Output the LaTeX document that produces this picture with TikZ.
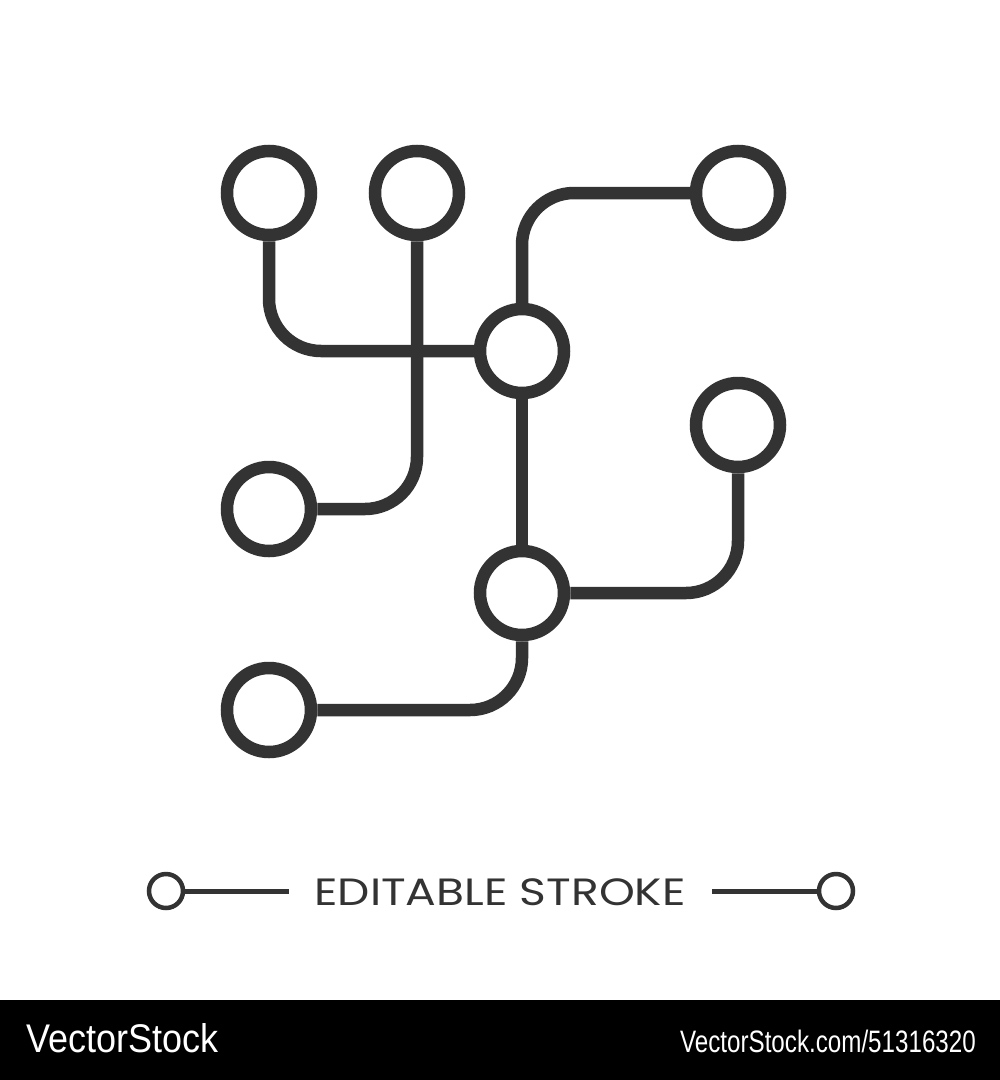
\documentclass[tikz,border=0pt]{standalone}
\usepackage{fontspec}
\setmainfont{Liberation Sans}
\newfontfamily\legendfont{Poppins}
\definecolor{ink}{HTML}{333333}
\begin{document}
\begin{tikzpicture}[x=1pt,y=-1pt,
   dot/.style={circle,draw=ink,fill=white,line width=12.5pt,minimum size=84pt,inner sep=0pt},
   wire/.style={draw=ink,line width=12.5pt,rounded corners=52pt},
   tinydot/.style={circle,draw=ink,line width=4.5pt,minimum size=34pt,inner sep=0pt}]
   \useasboundingbox (0,0) rectangle (1000,1080);
   \node[dot] (topa) at (269,193) {};
   \node[dot] (topb) at (417,193) {};
   \node[dot] (topc) at (738,193) {};
   \node[dot] (hubup) at (522,351) {};
   \node[dot] (rightc) at (738,425) {};
   \node[dot] (leftb) at (269,509) {};
   \node[dot] (hubdown) at (522,593) {};
   \node[dot] (lowa) at (269,710) {};
   \draw[wire] (topa) |- (hubup);
   \draw[wire] (topb) |- (leftb);
   \draw[wire] (hubup) |- (topc);
   \draw[wire] (hubup) -- (hubdown);
   \draw[wire] (hubdown) -| (rightc);
   \draw[wire] (hubdown) |- (lowa);
   \node[tinydot] (ends) at (166,891) {};
   \node[tinydot] (ende) at (836,891) {};
   \coordinate (stopl) at (289,891);
   \coordinate (stopr) at (712,891);
   \draw[ink,line width=5pt] (ends) -- (stopl);
   \draw[ink,line width=5pt] (stopr) -- (ende);
   \node[anchor=base,text=ink,font=\legendfont\fontsize{38}{40}\selectfont,inner sep=0pt] (caption) at (500,905) {\scalebox{1.2}[1]{EDITABLE STROKE}};
   \fill[black] (0,1000) rectangle (1000,1080);
   \node[anchor=base west,text=white,inner sep=0pt,font=\fontsize{40}{42}\selectfont] (brand) at (26,1052) {\scalebox{0.9}[1]{VectorStock}};
   \node[anchor=base east,text=white,inner sep=0pt,font=\fontsize{31}{33}\selectfont] (brandurl) at (976,1052) {\scalebox{0.78}[1]{VectorStock.com/51316320}};
\end{tikzpicture}
\end{document}
